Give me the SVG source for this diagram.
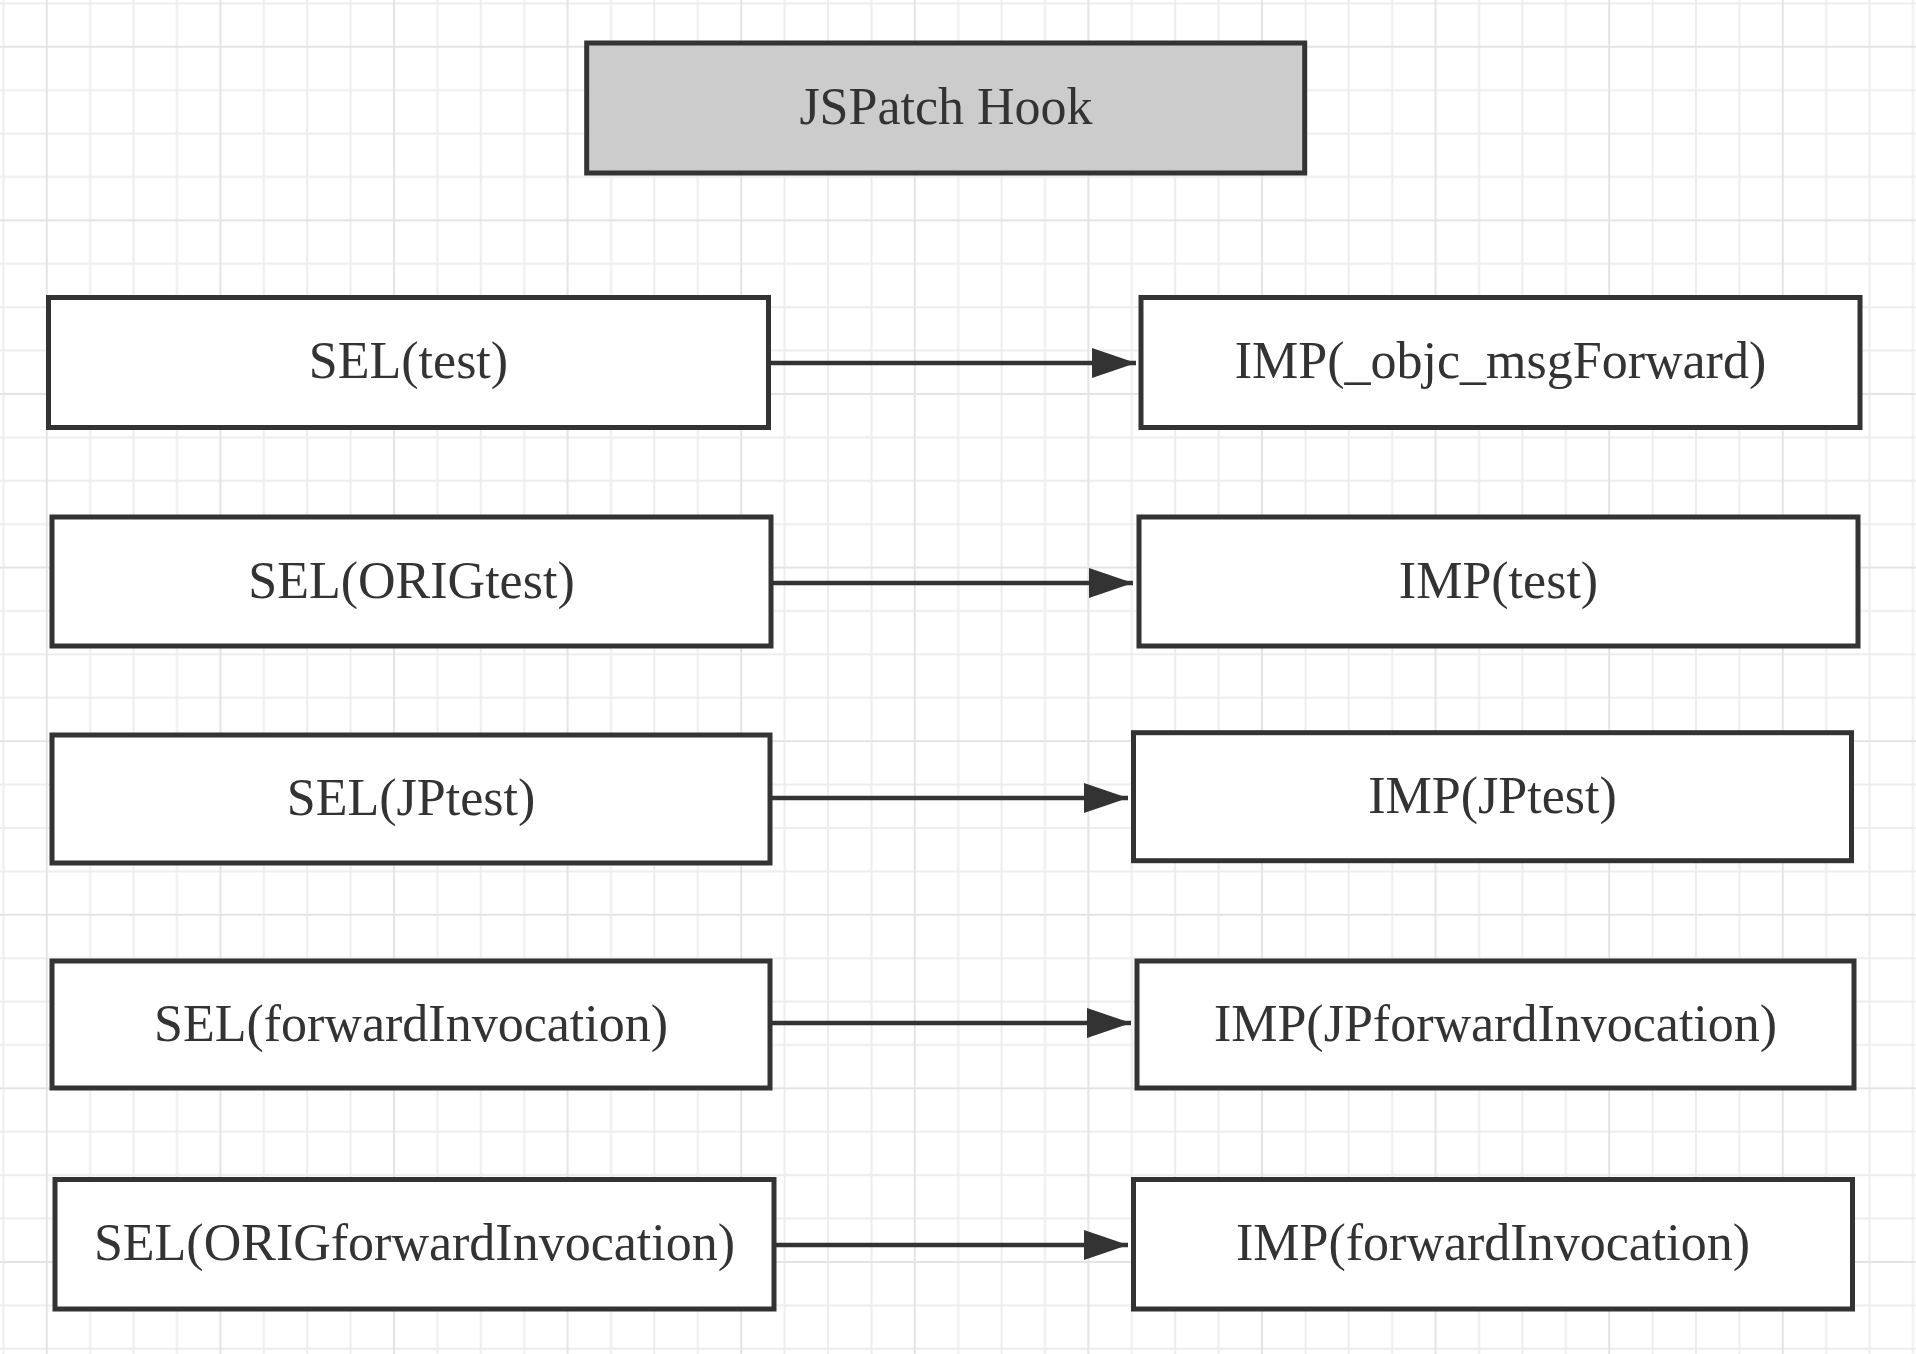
<svg xmlns="http://www.w3.org/2000/svg" width="1916" height="1354" viewBox="0 0 1916 1354">
  <defs>
    <pattern id="grid" patternUnits="userSpaceOnUse" x="26.8" y="26.8" width="173.6" height="173.6">
      <path d="M63.4 0V173.6M106.8 0V173.6M150.2 0V173.6M0 63.4H173.6M0 106.8H173.6M0 150.2H173.6" stroke="#ededed" stroke-width="2" fill="none"/>
      <path d="M20 0V173.6M0 20H173.6" stroke="#e4e4e4" stroke-width="2" fill="none"/>
    </pattern>
    <marker id="arrow" markerUnits="userSpaceOnUse" markerWidth="46" markerHeight="32" refX="44" refY="15" orient="auto">
      <path d="M0 0L44 15L0 30Z" fill="#333333"/>
    </marker>
    <style>
      .box { fill: #ffffff; stroke: #333333; stroke-width: 5; }
      .head { fill: #cccccc; stroke: #333333; stroke-width: 5; }
      .lbl { font-family: "Liberation Serif", "Times New Roman", serif; font-size: 52px; fill: #333333; text-anchor: middle; }
      .edge { stroke: #333333; stroke-width: 4.5; fill: none; marker-end: url(#arrow); }
    </style>
  </defs>
  <rect width="1916" height="1354" fill="#ffffff"/>
  <rect width="1916" height="1354" fill="url(#grid)"/>

  <g id="title">
    <rect class="head" x="586.7" y="43" width="718" height="130"/>
    <text class="lbl" x="946" y="124">JSPatch Hook</text>
  </g>

  <g id="sel-test">
    <rect class="box" x="48.5" y="297.5" width="720" height="130"/>
    <text class="lbl" x="408.5" y="378">SEL(test)</text>
  </g>
  <g id="imp-msgforward">
    <rect class="box" x="1141" y="297.5" width="719" height="130"/>
    <text class="lbl" x="1500.5" y="378">IMP(_objc_msgForward)</text>
  </g>

  <g id="sel-origtest">
    <rect class="box" x="52" y="517" width="719" height="129"/>
    <text class="lbl" x="411.5" y="597.5">SEL(ORIGtest)</text>
  </g>
  <g id="imp-test">
    <rect class="box" x="1139" y="517" width="719" height="129"/>
    <text class="lbl" x="1498.5" y="597.5">IMP(test)</text>
  </g>

  <g id="sel-jptest">
    <rect class="box" x="52" y="735" width="718" height="128"/>
    <text class="lbl" x="411" y="815">SEL(JPtest)</text>
  </g>
  <g id="imp-jptest">
    <rect class="box" x="1133.5" y="732.7" width="718" height="128"/>
    <text class="lbl" x="1492.5" y="812.7">IMP(JPtest)</text>
  </g>

  <g id="sel-forwardinvocation">
    <rect class="box" x="52" y="961" width="718" height="127"/>
    <text class="lbl" x="411" y="1040.5">SEL(forwardInvocation)</text>
  </g>
  <g id="imp-jpforwardinvocation">
    <rect class="box" x="1137" y="961" width="717" height="127"/>
    <text class="lbl" x="1495.5" y="1040.5">IMP(JPforwardInvocation)</text>
  </g>

  <g id="sel-origforwardinvocation">
    <rect class="box" x="55" y="1179.5" width="719" height="129.5"/>
    <text class="lbl" x="414.5" y="1260">SEL(ORIGforwardInvocation)</text>
  </g>
  <g id="imp-forwardinvocation">
    <rect class="box" x="1133.5" y="1179.5" width="719" height="129.5"/>
    <text class="lbl" x="1493" y="1260">IMP(forwardInvocation)</text>
  </g>

  <g id="connectors">
    <line class="edge" x1="771" y1="363" x2="1136" y2="363"/>
    <line class="edge" x1="773" y1="583" x2="1133" y2="583"/>
    <line class="edge" x1="772" y1="798" x2="1128" y2="798"/>
    <line class="edge" x1="772" y1="1023" x2="1131" y2="1023"/>
    <line class="edge" x1="776" y1="1245" x2="1128" y2="1245"/>
  </g>
</svg>
